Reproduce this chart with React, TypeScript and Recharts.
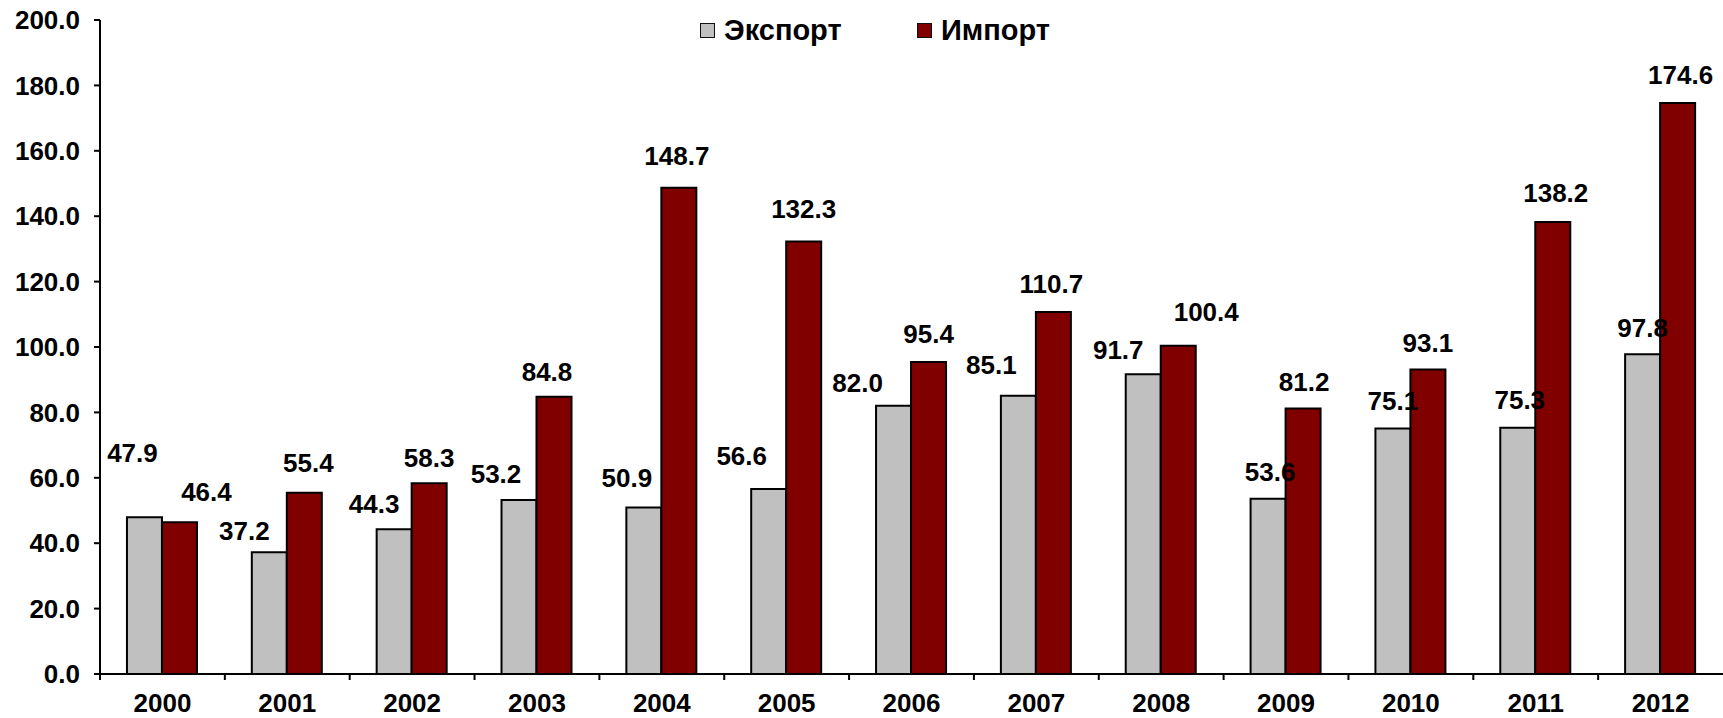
import React from "react";
import { BarChart, Bar, XAxis, YAxis, LabelList } from "recharts";

// ── data ────────────────────────────────────────────────────────────────────
const YEARS = ["2000", "2001", "2002", "2003", "2004", "2005", "2006", "2007", "2008", "2009", "2010", "2011", "2012"];
const EXPORT = [47.9, 37.2, 44.3, 53.2, 50.9, 56.6, 82.0, 85.1, 91.7, 53.6, 75.1, 75.3, 97.8];
const IMPORT = [46.4, 55.4, 58.3, 84.8, 148.7, 132.3, 95.4, 110.7, 100.4, 81.2, 93.1, 138.2, 174.6];
const Y_TICKS = [0, 20, 40, 60, 80, 100, 120, 140, 160, 180, 200];
const SERIES = [
  { key: "export", name: "Экспорт", color: "#C0C0C0" },
  { key: "import", name: "Импорт", color: "#800000" },
];

// label nudges (dx, dy of the label centre from the bar's top centre), as placed in the source
const EXPORT_NUDGE = [[-12, -65], [-25, -22], [-20, -25], [-23, -26], [-17, -30], [-27, -33], [-36, -23], [-27, -31], [-25, -24], [2, -27], [0, -28], [2, -28], [0, -27]];
const IMPORT_NUDGE = [[27, -31], [4, -30], [0, -26], [-7, -25], [-2, -32], [0, -33], [0, -28], [-2, -28], [28, -34], [1, -27], [0, -27], [3, -29], [3, -28]];

const chartData = YEARS.map((year, i) => ({ year, export: EXPORT[i], import: IMPORT[i] }));

// ── layout ──────────────────────────────────────────────────────────────────
const W = 1723;
const H = 718;
const Y_AXIS_W = 100;
const X_AXIS_H = 44;
const FONT = "'Liberation Sans', Arial, sans-serif";
const FS = 26;
const HALF_BAND = (W - Y_AXIS_W) / YEARS.length / 2;
const LEGEND_LEFT = [700, 917];

const labelText = (cx: number, cy: number, value: number) => (
  <text x={cx} y={cy + FS * 0.358} textAnchor="middle" fontFamily={FONT} fontSize={FS} fontWeight="bold" fill="#000">
    {value.toFixed(1)}
  </text>
);

// both label sets hang off the import bar so they paint above every bar
const importLabel = (props: any) => {
  const vb = props.viewBox ?? props;
  const i = props.index;
  const [dx, dy] = IMPORT_NUDGE[i];
  return labelText(vb.x + vb.width / 2 + dx, vb.y + dy, IMPORT[i]);
};

const exportLabel = (props: any) => {
  const vb = props.viewBox ?? props;
  const i = props.index;
  const [dx, dy] = EXPORT_NUDGE[i];
  const base = vb.y + vb.height;
  const top = base - vb.height * (EXPORT[i] / IMPORT[i]);
  return labelText(vb.x - vb.width / 2 + dx, top + dy, EXPORT[i]);
};

const YearTick = (props: any) => {
  const { x, y, payload } = props;
  return (
    <g>
      <line x1={x - HALF_BAND} y1={y} x2={x - HALF_BAND} y2={y + 6} stroke="#000" strokeWidth={2} />
      <text x={x} y={y + 38} textAnchor="middle" fontFamily={FONT} fontSize={FS} fontWeight="bold" fill="#000">
        {payload.value}
      </text>
    </g>
  );
};

function LegendBox() {
  return (
    <>
      {SERIES.map((s, i) => (
        <div
          key={s.key}
          style={{
            position: "absolute", left: LEGEND_LEFT[i], top: 12, height: 36,
            display: "flex", alignItems: "center",
            fontFamily: FONT, fontSize: 29, fontWeight: "bold", color: "#000",
          }}
        >
          <span style={{ width: 13, height: 13, background: s.color, border: "1.5px solid #111", marginRight: 9, display: "inline-block" }} />
          <span style={{ lineHeight: "36px" }}>{s.name}</span>
        </div>
      ))}
    </>
  );
}

export default function App() {
  return (
    <div style={{ position: "absolute", left: 0, top: 0, width: W, height: H, background: "#fff" }}>
      <BarChart width={W} height={H} data={chartData} margin={{ top: 20, right: 0, bottom: 0, left: 0 }} barCategoryGap="21.6%" barGap={0}>
        <XAxis
          dataKey="year"
          height={X_AXIS_H}
          axisLine={{ stroke: "#000", strokeWidth: 2 }}
          tickLine={false}
          tickSize={0}
          tickMargin={0}
          tick={<YearTick />}
          interval={0}
        />
        <YAxis
          width={Y_AXIS_W}
          domain={[0, 200]}
          ticks={Y_TICKS}
          interval={0}
          tickFormatter={(v: number) => v.toFixed(1)}
          axisLine={{ stroke: "#000", strokeWidth: 2 }}
          tickLine={{ stroke: "#000", strokeWidth: 2 }}
          tickSize={6}
          tickMargin={14}
          tick={{ fill: "#000", fontFamily: FONT, fontSize: FS, fontWeight: "bold" }}
        />
        <Bar dataKey="export" name="Экспорт" fill="#C0C0C0" stroke="#000" strokeWidth={2} isAnimationActive={false} />
        <Bar dataKey="import" name="Импорт" fill="#800000" stroke="#000" strokeWidth={2} isAnimationActive={false}>
          <LabelList dataKey="export" content={exportLabel} />
          <LabelList dataKey="import" content={importLabel} />
        </Bar>
      </BarChart>
      <LegendBox />
    </div>
  );
}
